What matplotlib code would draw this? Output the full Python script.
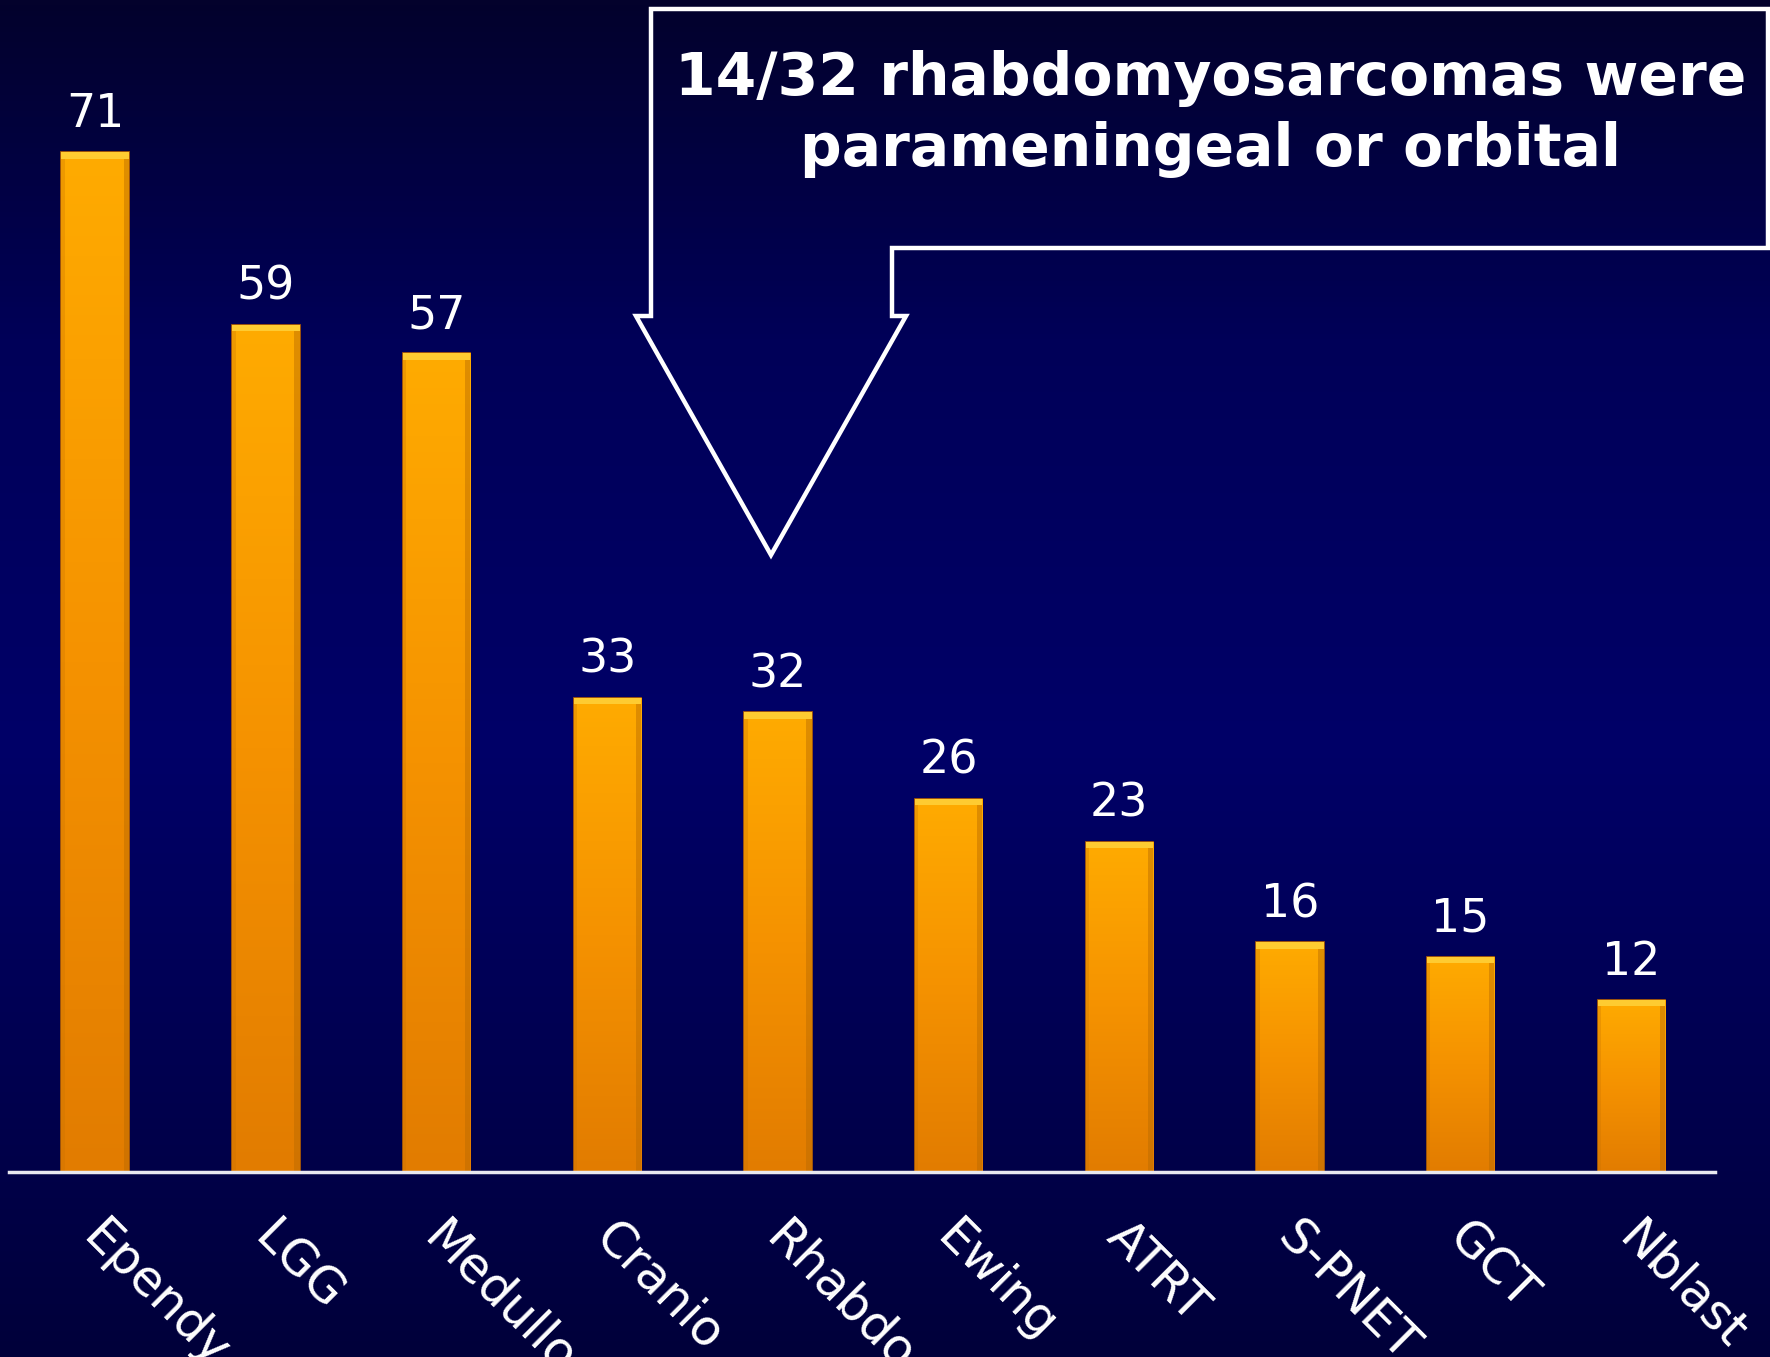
import numpy as np
import matplotlib.pyplot as plt
from matplotlib.colors import LinearSegmentedColormap
from matplotlib.patches import Polygon
from matplotlib.transforms import ScaledTranslation

# data
tumours = ['Ependy', 'LGG', 'Medullo', 'Cranio', 'Rhabdo',
           'Ewing', 'ATRT', 'S-PNET', 'GCT', 'Nblast']
counts = [71, 59, 57, 33, 32, 26, 23, 16, 15, 12]
callout_text = '14/32 rhabdomyosarcomas were\nparameningeal or orbital'

W, H = 1770, 1357
fig = plt.figure(figsize=(W / 100, H / 100), dpi=100)

# dark blue slide background
bg = fig.add_axes([0, 0, 1, 1])
bg_cmap = LinearSegmentedColormap.from_list(
    'bg', [(0.0, '#00003a'), (0.45, '#000068'), (0.75, '#000058'), (1.0, '#03022c')])
bg.imshow(np.linspace(0, 1, 256).reshape(-1, 1), cmap=bg_cmap, aspect='auto',
          extent=[0, 1, 0, 1], origin='lower')
bg.set_axis_off()

# bar chart axes (pixel layout of the slide)
ax = fig.add_axes([9 / W, 185 / H, (1715 - 9) / W, (1172) / H])
ax.patch.set_alpha(0)
x = np.arange(len(tumours))
bars = ax.bar(x, counts, width=0.395, color='#f49400', edgecolor='#b86200',
              linewidth=1.2, zorder=2)

bar_cmap = LinearSegmentedColormap.from_list('bar', ['#e27c00', '#f59200', '#ffab00'])
grad = np.linspace(0, 1, 256).reshape(-1, 1)
for b in bars:
    x0, w, h = b.get_x(), b.get_width(), b.get_height()
    im = ax.imshow(grad, cmap=bar_cmap, aspect='auto', origin='lower',
                   extent=[x0, x0 + w, 0, h], zorder=3)
    im.set_clip_path(b)
    # light bevel on top
    ax.fill_between([x0, x0 + w], h - 0.45, h, color='#ffd23a', alpha=0.85,
                    zorder=4, linewidth=0)
    # darker sides
    ax.fill_between([x0 + w * 0.92, x0 + w], 0, h - 0.45, color='#b86a00',
                    alpha=0.45, zorder=4, linewidth=0)
    ax.fill_between([x0, x0 + w * 0.05], 0, h - 0.45, color='#c87200',
                    alpha=0.3, zorder=4, linewidth=0)
    ax.text(b.get_x() + w / 2, h + 1.05, str(int(h)), ha='center', va='bottom',
            color='white', fontsize=33, zorder=5)

ax.set_xlim(-0.505, 9.49)
ax.set_ylim(0, 81.6)
for s in ['top', 'right', 'left']:
    ax.spines[s].set_visible(False)
ax.spines['bottom'].set_color('#e8e8f0')
ax.spines['bottom'].set_linewidth(2.5)
ax.spines['bottom'].set_zorder(6)
ax.set_yticks([])
ax.set_xticks(x)
ax.set_xticklabels(tumours, rotation=-45, ha='left', rotation_mode='anchor',
                   color='white', fontsize=35.5)
ax.tick_params(axis='x', length=0, pad=29)
for lbl in ax.get_xticklabels():
    lbl.set_transform(lbl.get_transform() + ScaledTranslation(0.12, 0, fig.dpi_scale_trans))

# callout arrow
pts = [(651, 9), (1768, 9), (1768, 248), (892, 248), (892, 316), (906, 316),
       (771, 555), (636, 316), (651, 316)]
pts = [(px / W, 1 - py / H) for px, py in pts]
fig.patches.append(Polygon(pts, closed=True, fill=False, edgecolor='white',
                           linewidth=3.2, transform=fig.transFigure, zorder=10))
fig.text(1211 / W, 1 - 114 / H, callout_text, ha='center', va='center',
         color='white', fontsize=42, fontweight='bold', linespacing=1.3)

fig.savefig('out.png', dpi=100)
